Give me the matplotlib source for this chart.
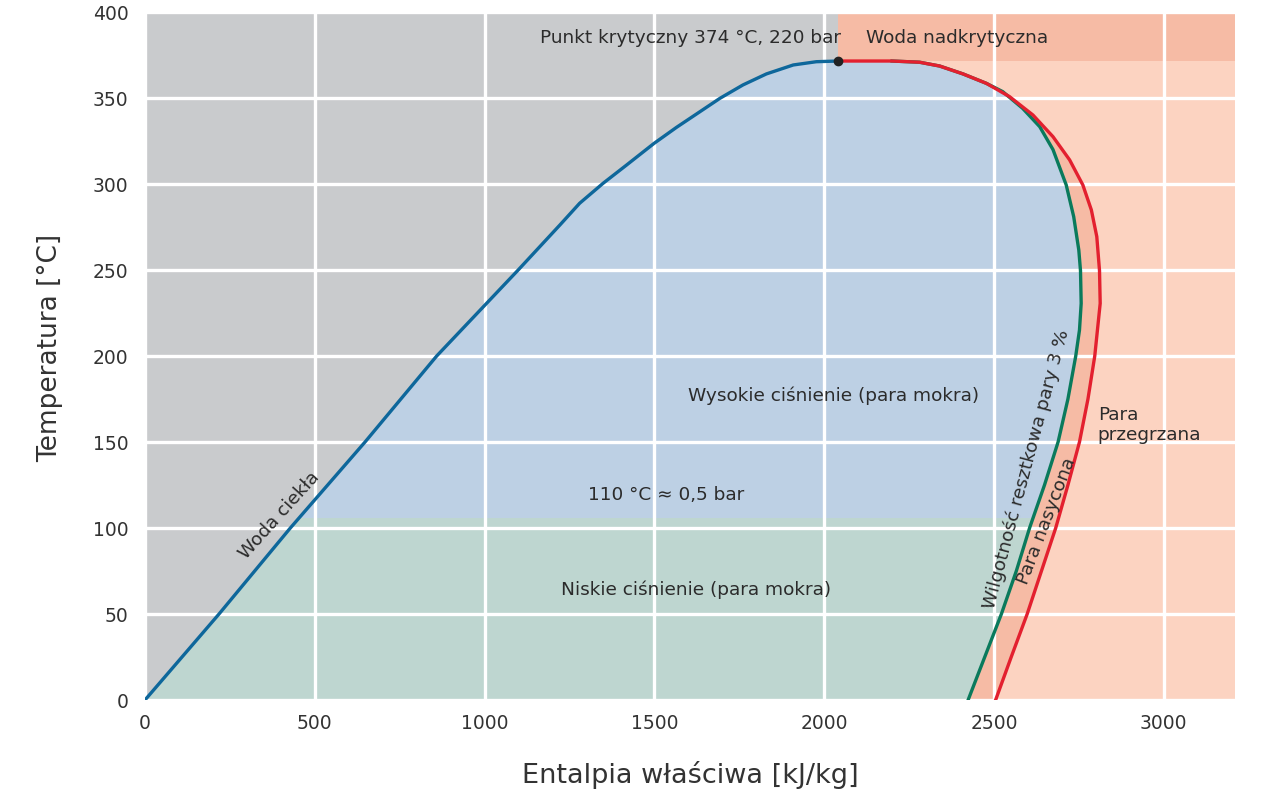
import matplotlib
matplotlib.use("Agg")
import matplotlib.pyplot as plt
import numpy as np
from matplotlib.patches import Polygon

# liquid water line (h [kJ/kg], T [C])
h_liquid = [0, 218, 428, 648, 859, 1099, 1222, 1280, 1349, 1418, 1499, 1565, 1634, 1693,
            1761, 1830, 1909, 1977, 2041]
t_liquid = [0, 50, 100, 150, 200, 250, 276.2, 288.8, 300.4, 311, 323.6, 332.9, 342, 349.8,
            357.6, 364, 369.2, 371.1, 371.5]

# saturated steam (red)
h_sat = [2041, 2200, 2281, 2340, 2409, 2478, 2546, 2615, 2674, 2723, 2762, 2787, 2803, 2811,
         2813, 2797, 2777, 2752, 2718, 2682, 2640, 2598, 2551, 2505]
t_sat = [371.5, 371.5, 370.8, 368.6, 364, 358.5, 350.8, 340.1, 327.5, 314, 299.4, 284.9, 269.4, 249.6,
         230.6, 200, 175, 150, 125, 100, 75, 50, 25, 0]

# 3 % residual moisture (green)
h_wet = [2200, 2281, 2340, 2409, 2478, 2526, 2585, 2635, 2674, 2713, 2735, 2750, 2755, 2757,
         2752, 2741, 2718, 2689, 2649, 2605, 2566, 2522, 2473, 2424]
t_wet = [371.5, 370.8, 368.6, 364, 358.5, 353.7, 343.9, 333.3, 320, 299.4, 281, 261.6, 249.6, 230.6,
         215.1, 200, 175, 150, 125, 100, 75, 50, 25, 0]

crit_h, crit_t = 2041, 371.5
low_pressure_limit = 106

c_gray = "#c9cbcd"
c_blue_fill = "#bdd0e4"
c_green_fill = "#bed6d0"
c_salmon = "#fcd3c1"
c_salmon_dark = "#f6bba5"
c_text = "#2b2b2b"

fig = plt.figure(figsize=(12.8, 7.96), dpi=100)
ax = fig.add_axes([145 / 1280, 1 - 700 / 796, 1090 / 1280, 688 / 796])
ax.set_facecolor(c_gray)
ax.set_xlim(0, 3210)
ax.set_ylim(0, 400)

# superheated region and supercritical band
ax.axvspan(crit_h, 3210, color=c_salmon, lw=0, zorder=0.5)
ax.fill_between([crit_h, 3210], crit_t, 400, color=c_salmon_dark, lw=0, zorder=0.6)

# between saturated and 3 % line
red_dome = Polygon(np.column_stack([h_liquid + h_sat, t_liquid + t_sat]), closed=True,
                   fc=c_salmon_dark, ec="none", zorder=0.7)
ax.add_patch(red_dome)

# wet steam dome
blue_dome = Polygon(np.column_stack([h_liquid + h_wet, t_liquid + t_wet]), closed=True,
                    fc=c_blue_fill, ec="none", zorder=0.8)
ax.add_patch(blue_dome)
low = ax.axhspan(0, low_pressure_limit, color=c_green_fill, lw=0, zorder=0.9)
low.set_clip_path(blue_dome)

ax.set_xticks(np.arange(0, 3001, 500))
ax.set_yticks(np.arange(0, 401, 50))
ax.grid(True, color="white", lw=2.4)
ax.set_axisbelow(False)
for s in ax.spines.values():
    s.set_visible(False)
ax.tick_params(length=0, labelsize=13.5, labelcolor="#333333")
ax.tick_params(axis="x", pad=10)
ax.tick_params(axis="y", pad=12)

ax.plot(h_wet, t_wet, color="#0a7a5c", lw=2.4, zorder=3, solid_joinstyle="round")
ax.plot(h_sat, t_sat, color="#e3202f", lw=2.4, zorder=3.1, solid_joinstyle="round")
ax.plot(h_liquid, t_liquid, color="#0e679b", lw=2.4, zorder=3.2, solid_joinstyle="round")
ax.plot([crit_h], [crit_t], "o", color="#222222", ms=6, zorder=4)

fs = 13.3
ax.text(2050, 385, "Punkt krytyczny 374 °C, 220 bar", ha="right", va="center", fontsize=fs, color=c_text, zorder=5)
ax.text(2122, 385, "Woda nadkrytyczna", ha="left", va="center", fontsize=fs, color=c_text, zorder=5)
ax.text(2027, 177, "Wysokie ciśnienie (para mokra)", ha="center", va="center", fontsize=fs, color=c_text, zorder=5)
ax.text(1536, 119, "110 °C ≈ 0,5 bar", ha="center", va="center", fontsize=fs, color=c_text, zorder=5)
ax.text(1624, 64, "Niskie ciśnienie (para mokra)", ha="center", va="center", fontsize=fs, color=c_text, zorder=5)
ax.text(397, 107, "Woda ciekła", ha="center", va="center", rotation=48, fontsize=fs, color=c_text, zorder=5)
ax.text(2595, 134, "Wilgotność resztkowa pary 3 %", ha="center", va="center", rotation=75,
        fontsize=fs, color=c_text, zorder=5)
ax.text(2654, 104, "Para nasycona", ha="center", va="center", rotation=69, fontsize=fs, color=c_text, zorder=5)
ax.text(2806, 160, "Para\nprzegrzana", ha="left", va="center", fontsize=fs, color=c_text,
        linespacing=1.1, zorder=5)

fig.text(690 / 1280, 1 - 775 / 796, "Entalpia właściwa [kJ/kg]", ha="center", va="center",
         fontsize=19.5, color="#333333")
fig.text(50 / 1280, 1 - 348 / 796, "Temperatura [°C]", ha="center", va="center", rotation=90,
         fontsize=19, color="#333333", family=["Liberation Sans Narrow", "DejaVu Sans"])

fig.savefig("out.png", dpi=100)
